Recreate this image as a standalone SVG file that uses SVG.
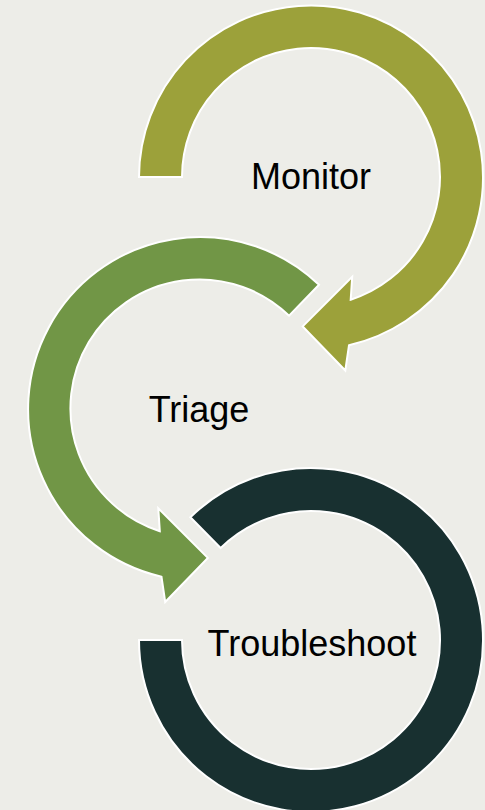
<svg xmlns="http://www.w3.org/2000/svg" width="485" height="810" viewBox="0 0 485 810">
  <style>
    .arc { stroke: #ffffff; stroke-width: 2; stroke-linejoin: miter; }
    .monitor { fill: #9ca13a; }
    .triage { fill: #719646; }
    .trouble { fill: #183030; }
    .label { font-family: "Liberation Sans", Arial, sans-serif; font-size: 36px; fill: #000000; text-anchor: middle; }
  </style>
  <rect width="485" height="810" fill="#ededE8"/>

  <!-- Monitor: clockwise arc around (311,177) ending in an arrowhead -->
  <g id="monitor">
    <path class="arc monitor" d="M 139,177 A 172 172 0 1 1 349,345.2 L 345.3,370.5 L 302.7,326.4 L 352.2,276.8 L 350.7,299.7 A 129 129 0 1 0 182,177 Z"/>
    <text class="label" x="311" y="189">Monitor</text>
  </g>

  <!-- Triage: counter-clockwise arc around (199.5,408.5) ending in an arrowhead -->
  <g id="triage">
    <path class="arc triage" d="M 319,284.8 A 172 172 0 1 0 161.5,576.7 L 165.2,602 L 207.8,557.9 L 158.3,508.3 L 159.8,531.2 A 129 129 0 1 1 289.1,315.7 Z"/>
    <text class="label" x="199" y="421.5">Triage</text>
  </g>

  <!-- Troubleshoot: open ring around (311,640) -->
  <g id="troubleshoot">
    <path class="arc trouble" d="M 190.4,517.3 A 172 172 0 1 1 139,640 L 182,640 A 129 129 0 1 0 220.6,548 Z"/>
    <text class="label" x="312" y="655.5">Troubleshoot</text>
  </g>
</svg>
